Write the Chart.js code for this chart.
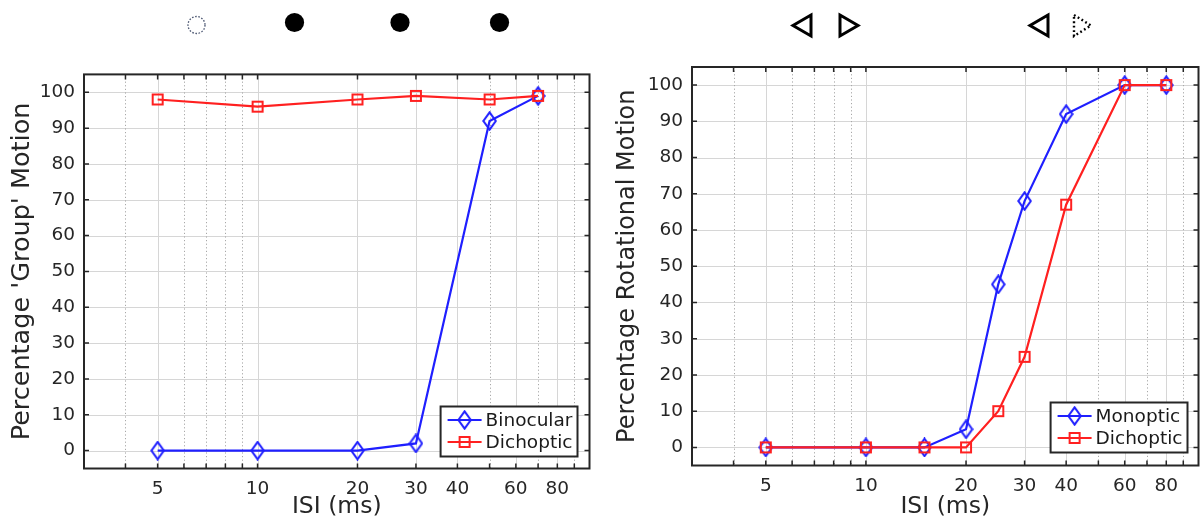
<!DOCTYPE html>
<html>
<head>
<meta charset="utf-8">
<script src="https://cdn.jsdelivr.net/npm/chart.js@4.4.1/dist/chart.umd.min.js"></script>
<style>
  html, body { margin: 0; padding: 0; background: #fff; }
  #wrap { position: relative; width: 1201px; height: 522px; overflow: hidden; background: #fff; }
  canvas { position: absolute; top: 0; }
  #icons { position: absolute; left: 0; top: 0; }
</style>
</head>
<body>
<div id="wrap">
  <svg id="icons" width="1201" height="60" xmlns="http://www.w3.org/2000/svg">
    <circle cx="196.5" cy="25" r="8.5" fill="none" stroke="#4a5570" stroke-width="1.3" stroke-dasharray="1.6 1.6"/>
    <ellipse cx="294.5" cy="22.5" rx="9.6" ry="9.4" fill="#000"/>
    <ellipse cx="400" cy="22.5" rx="9.6" ry="9.4" fill="#000"/>
    <ellipse cx="499.5" cy="22.5" rx="9.6" ry="9.4" fill="#000"/>
    <polygon points="811,15 793,25.5 811,36" fill="none" stroke="#000" stroke-width="3" stroke-linejoin="miter"/>
    <polygon points="840,15 858,25.5 840,36" fill="none" stroke="#000" stroke-width="3" stroke-linejoin="miter"/>
    <polygon points="1048,15 1030,25.5 1048,36" fill="none" stroke="#000" stroke-width="3" stroke-linejoin="miter"/>
    <polygon points="1074,15 1091,25.5 1074,36" fill="none" stroke="#000" stroke-width="2.4" stroke-dasharray="1.8 2.6"/>
  </svg>
  <canvas id="left" width="600" height="522" style="left:0px"></canvas>
  <canvas id="right" width="601" height="522" style="left:600px"></canvas>
</div>
<script>
// ---------- data ----------
const leftISI = [5, 10, 20, 30, 50, 70];
const binocular = [0, 0, 0, 2, 92, 99];
const dichopticLeft = [98, 96, 98, 99, 98, 99];

const rightISI = [5, 10, 15, 20, 25, 30, 40, 60, 80];
const monoptic = [0, 0, 0, 5, 45, 68, 92, 100, 100];
const dichopticRight = [0, 0, 0, 0, 10, 25, 67, 100, 100];

const xTickLabels = [5, 10, 20, 30, 40, 60, 80];
const xMinorTicks = [4, 6, 7, 8, 9, 50, 70, 90];
const yTickValues = [0, 10, 20, 30, 40, 50, 60, 70, 80, 90, 100];

const leftLabels = ['Binocular', 'Dichoptic'];
const rightLabels = ['Monoptic', 'Dichoptic'];

// ---------- styles ----------
const BLUE = '#1f1fff';
const RED = '#ff2020';
const AXIS = '#262626';
const FONT = "'DejaVu Sans', sans-serif";

function diamondImg(color) {
  const c = document.createElement('canvas');
  c.width = 15; c.height = 20;
  const g = c.getContext('2d');
  g.strokeStyle = color; g.lineWidth = 2;
  g.beginPath();
  g.moveTo(7.5, 1.3); g.lineTo(13.7, 10); g.lineTo(7.5, 18.7); g.lineTo(1.3, 10); g.closePath();
  g.stroke();
  return c;
}
function squareImg(color) {
  const c = document.createElement('canvas');
  c.width = 14; c.height = 14;
  const g = c.getContext('2d');
  g.strokeStyle = color; g.lineWidth = 2;
  g.strokeRect(2, 2, 10, 10);
  return c;
}
const blueDiamond = diamondImg(BLUE);
const redSquare = squareImg(RED);

// grid / frame / ticks plugin
const gridPlugin = {
  id: 'gridFrame',
  beforeDatasetsDraw(chart) {
    const {ctx, chartArea: a, scales: {x, y}} = chart;
    ctx.save();
    ctx.lineWidth = 1;
    ctx.strokeStyle = '#d6d6d6';
    yTickValues.forEach(v => {
      const py = Math.round(y.getPixelForValue(v)) + 0.5;
      ctx.beginPath(); ctx.moveTo(a.left, py); ctx.lineTo(a.right, py); ctx.stroke();
    });
    xTickLabels.forEach(v => {
      const px = Math.round(x.getPixelForValue(v)) + 0.5;
      ctx.beginPath(); ctx.moveTo(px, a.top); ctx.lineTo(px, a.bottom); ctx.stroke();
    });
    ctx.strokeStyle = '#a8a8a8';
    ctx.setLineDash([1.2, 2.4]);
    xMinorTicks.forEach(v => {
      const px = Math.round(x.getPixelForValue(v)) + 0.5;
      ctx.beginPath(); ctx.moveTo(px, a.top); ctx.lineTo(px, a.bottom); ctx.stroke();
    });
    ctx.setLineDash([]);
    ctx.strokeStyle = AXIS;
    ctx.lineWidth = 1.5;
    const tl = 5;
    xTickLabels.concat(xMinorTicks).forEach(v => {
      const px = x.getPixelForValue(v);
      ctx.beginPath();
      ctx.moveTo(px, a.bottom); ctx.lineTo(px, a.bottom - tl);
      ctx.moveTo(px, a.top); ctx.lineTo(px, a.top + tl);
      ctx.stroke();
    });
    yTickValues.forEach(v => {
      const py = y.getPixelForValue(v);
      ctx.beginPath();
      ctx.moveTo(a.left, py); ctx.lineTo(a.left + tl, py);
      ctx.moveTo(a.right, py); ctx.lineTo(a.right - tl, py);
      ctx.stroke();
    });
    ctx.lineWidth = 2;
    ctx.strokeRect(a.left, a.top, a.right - a.left, a.bottom - a.top);
    ctx.restore();
  }
};

const boxLegend = {
  id: 'boxLegend',
  afterDraw(chart, args, opts) {
    const {ctx, chartArea: a} = chart;
    const ds = chart.data.datasets;
    ctx.save();
    ctx.font = '18.5px ' + FONT;
    const textW = Math.max(...ds.map(d => ctx.measureText(d.label).width));
    const padL = 7, lineLen = 34, gap = 4, padR = 5;
    const rowH = 22, boxH = 50;
    const boxW = padL + lineLen + gap + textW + padR;
    const bx = a.right - opts.marginRight - boxW;
    const by = a.bottom - opts.marginBottom - boxH;
    ctx.fillStyle = '#fff';
    ctx.fillRect(bx, by, boxW, boxH);
    ctx.strokeStyle = AXIS; ctx.lineWidth = 2;
    ctx.strokeRect(bx, by, boxW, boxH);
    ds.forEach((d, i) => {
      const cy = by + 13.5 + i * rowH;
      ctx.strokeStyle = d.borderColor; ctx.lineWidth = 2;
      ctx.beginPath(); ctx.moveTo(bx + padL, cy); ctx.lineTo(bx + padL + lineLen, cy); ctx.stroke();
      const img = d.pointStyle;
      ctx.drawImage(img, bx + padL + lineLen / 2 - img.width / 2, cy - img.height / 2);
      ctx.fillStyle = '#1a1a1a';
      ctx.textBaseline = 'middle';
      ctx.fillText(d.label, bx + padL + lineLen + gap, cy + 1);
    });
    ctx.restore();
  }
};

function makeChart(id, xs, s1, s2, labels, yTitle, L) {
  const pts = arr => xs.map((v, i) => ({x: v, y: arr[i]}));
  return new Chart(document.getElementById(id), {
    type: 'line',
    data: {
      datasets: [
        {label: labels[0], data: pts(s1), borderColor: BLUE, borderWidth: 2.2, pointStyle: blueDiamond,
         pointRadius: 7, order: 1, tension: 0, fill: false},
        {label: labels[1], data: pts(s2), borderColor: RED, borderWidth: 2.2, pointStyle: redSquare,
         pointRadius: 7, order: 0, tension: 0, fill: false}
      ]
    },
    options: {
      responsive: false,
      animation: false,
      events: [],
      layout: {autoPadding: false, padding: {left: 0, top: L.top, right: L.right, bottom: 0}},
      plugins: {
        legend: {display: false},
        tooltip: {enabled: false},
        boxLegend: {marginRight: L.legR, marginBottom: L.legB}
      },
      scales: {
        x: {
          type: 'logarithmic', min: 3, max: 100,
          grid: {display: false, drawTicks: false},
          border: {display: false},
          afterBuildTicks: s => { s.ticks = xTickLabels.map(v => ({value: v})); },
          ticks: {autoSkip: false, maxRotation: 0, minRotation: 0, padding: 10, color: AXIS,
                  font: {family: FONT, size: 18.5}, callback: v => String(v)},
          title: {display: true, text: 'ISI (ms)', color: AXIS, font: {family: FONT, size: 23.5},
                  padding: {top: 0, bottom: 1}},
          afterFit: s => { s.height = L.xh; s.paddingLeft = 0; s.paddingRight = 0; }
        },
        y: {
          min: -5, max: 105,
          grid: {display: false, drawTicks: false},
          border: {display: false},
          afterBuildTicks: s => { s.ticks = yTickValues.map(v => ({value: v})); },
          ticks: {padding: 9, color: AXIS, font: {family: FONT, size: 18.5}, callback: v => String(v)},
          title: {display: true, text: yTitle, color: AXIS, font: {family: FONT, size: L.ytSize},
                  padding: {top: L.yt, bottom: L.yt}},
          afterFit: s => { s.width = L.left; s.paddingTop = 0; s.paddingBottom = 0; }
        }
      }
    },
    plugins: [gridPlugin, boxLegend]
  });
}

makeChart('left', leftISI, binocular, dichopticLeft, leftLabels, "Percentage 'Group' Motion",
  {left: 84, top: 74.4, right: 10.5, xh: 53.5, yt: 7.5, ytSize: 25.5, legR: 12, legB: 12});
makeChart('right', rightISI, monoptic, dichopticRight, rightLabels, 'Percentage Rotational Motion',
  {left: 92, top: 67, right: 2.5, xh: 56.5, yt: 13.5, ytSize: 24, legR: 11, legB: 13});
</script>
</body>
</html>
